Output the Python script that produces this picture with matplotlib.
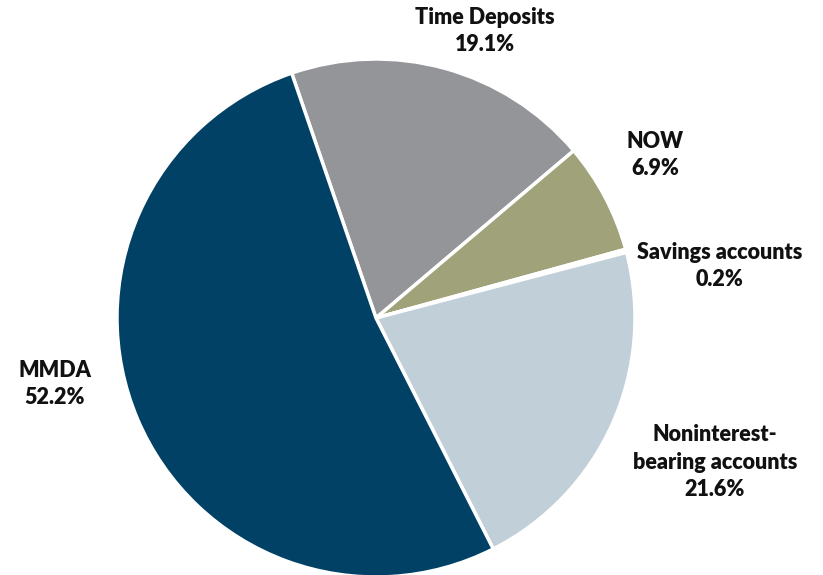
import matplotlib.pyplot as plt

categories = ['Time Deposits', 'NOW', 'Savings accounts',
              'Noninterest-\nbearing accounts', 'MMDA']
shares = [19.1, 6.9, 0.2, 21.6, 52.2]
colors = ['#939598', '#A0A27A', '#7F8FA0', '#C1CFD8', '#004165']

# label centres in pie-radius units (hand placed, as in the source)
label_pos = [(0.421, 1.108), (1.077, 0.629), (1.328, 0.201),
             (1.309, -0.556), (-1.239, -0.255)]


def main():
    plt.rcParams['font.family'] = ['Lato', 'DejaVu Sans']
    fig = plt.figure(figsize=(8.23, 5.75), dpi=100)
    ax = fig.add_axes([0, 0, 1, 1])

    ax.pie(shares, colors=colors, startangle=109, counterclock=False,
           radius=1, wedgeprops={'edgecolor': 'white', 'linewidth': 2.5})

    for name, val, (x, y) in zip(categories, shares, label_pos):
        ax.text(x, y, f'{name}\n{val:.1f}%', ha='center', va='center',
                fontsize=15.5, fontweight='heavy', color='#111111',
                linespacing=1.38)

    # centre at (376, 318) px, radius 259 px
    ax.set_xlim(-376 / 259, (823 - 376) / 259)
    ax.set_ylim(-(575 - 318) / 259, 318 / 259)
    ax.set_aspect('equal')
    ax.axis('off')

    fig.savefig('out.png', dpi=100)
    plt.close(fig)


if __name__ == "__main__":
    main()
